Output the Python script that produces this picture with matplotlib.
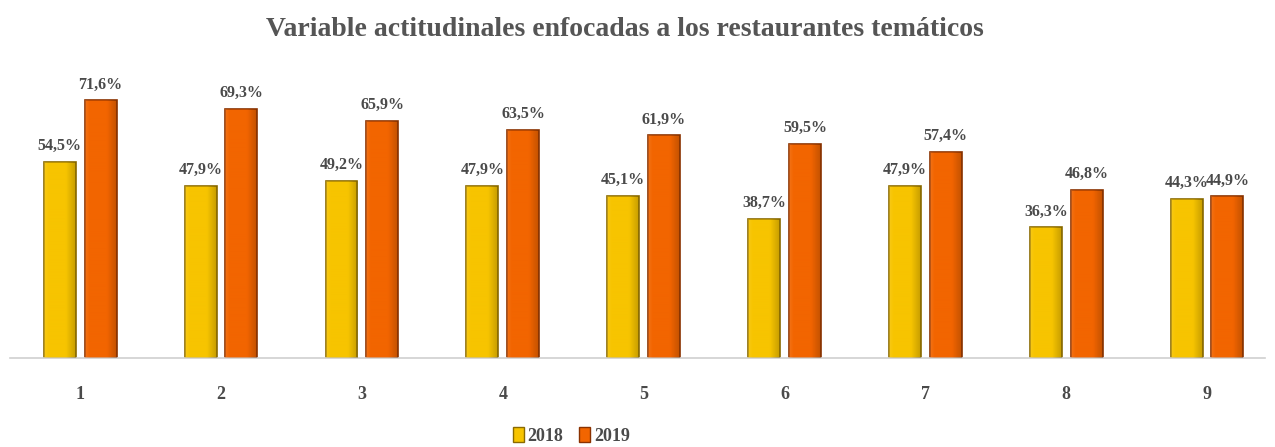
import matplotlib
matplotlib.use("Agg")
import matplotlib.pyplot as plt
import numpy as np
from matplotlib.colors import LinearSegmentedColormap
from matplotlib.patches import Patch

categories = ["1", "2", "3", "4", "5", "6", "7", "8", "9"]
values_2018 = [54.5, 47.9, 49.2, 47.9, 45.1, 38.7, 47.9, 36.3, 44.3]
values_2019 = [71.6, 69.3, 65.9, 63.5, 61.9, 59.5, 57.4, 46.8, 44.9]
series_names = ["2018", "2019"]

yellow = "#F7C400"
orange = "#F26500"
text_color = "#4a4a4a"

fig = plt.figure(figsize=(12.75, 4.47), dpi=100)
ax = fig.add_axes([0.008, 0.199, 0.984, 0.644])

x = np.arange(len(categories)) + 1
w = 0.227
off = 0.145

bars1 = ax.bar(x - off, values_2018, w, color=yellow, edgecolor="#8a6a00", linewidth=1.2, zorder=2)
bars2 = ax.bar(x + off, values_2019, w, color=orange, edgecolor="#8a3200", linewidth=1.2, zorder=2)

# fake bevel: horizontal shading clipped to each bar
def shade(bars, base):
    cmap = LinearSegmentedColormap.from_list("s", ["#ffffff", base, base, "#000000"])
    grad = np.linspace(0.25, 0.85, 64).reshape(1, -1)
    for b in bars:
        x0, y0 = b.get_x(), b.get_y()
        im = ax.imshow(grad, cmap=cmap, vmin=0, vmax=1, aspect="auto",
                       extent=[x0, x0 + b.get_width(), y0, y0 + b.get_height()],
                       alpha=0.35, zorder=3)
        im.set_clip_path(b)

shade(bars1, yellow)
shade(bars2, orange)

lab_font = dict(family="Liberation Serif", fontweight="bold", fontsize=11.5, color=text_color)
for bars, vals in ((bars1, values_2018), (bars2, values_2019)):
    for b, v in zip(bars, vals):
        ax.text(b.get_x() + b.get_width() / 2, v + 2.2, f"{v:.1f}%".replace(".", ","),
                ha="center", va="bottom", **lab_font)

ax.set_xlim(0.503, 9.41)
ax.set_ylim(0, 80)
ax.set_xticks(x)
ax.set_xticklabels(categories, family="Liberation Serif", fontweight="bold",
                   fontsize=13, color=text_color)
ax.tick_params(axis="x", length=0, pad=20)
ax.set_yticks([])
for s in ["top", "right", "left"]:
    ax.spines[s].set_visible(False)
ax.spines["bottom"].set_color("#d0d0d0")
ax.spines["bottom"].set_linewidth(1.2)
ax.autoscale(False)

fig.text(0.49, 0.935, "Variable actitudinales enfocadas a los restaurantes temáticos",
         ha="center", va="center", family="Liberation Serif", fontweight="bold",
         fontsize=20, color="#555555")

handles = [Patch(facecolor=yellow, edgecolor="#8a6a00", label=series_names[0]),
           Patch(facecolor=orange, edgecolor="#8a3200", label=series_names[1])]
fig.legend(handles=handles, loc="center", bbox_to_anchor=(0.448, 0.025), ncol=2,
           frameon=False, handlelength=0.6, handleheight=0.9, handletextpad=0.2,
           columnspacing=0.9, prop=dict(family="Liberation Serif", weight="bold", size=13),
           labelcolor=text_color)

fig.savefig("out.png", dpi=100)
